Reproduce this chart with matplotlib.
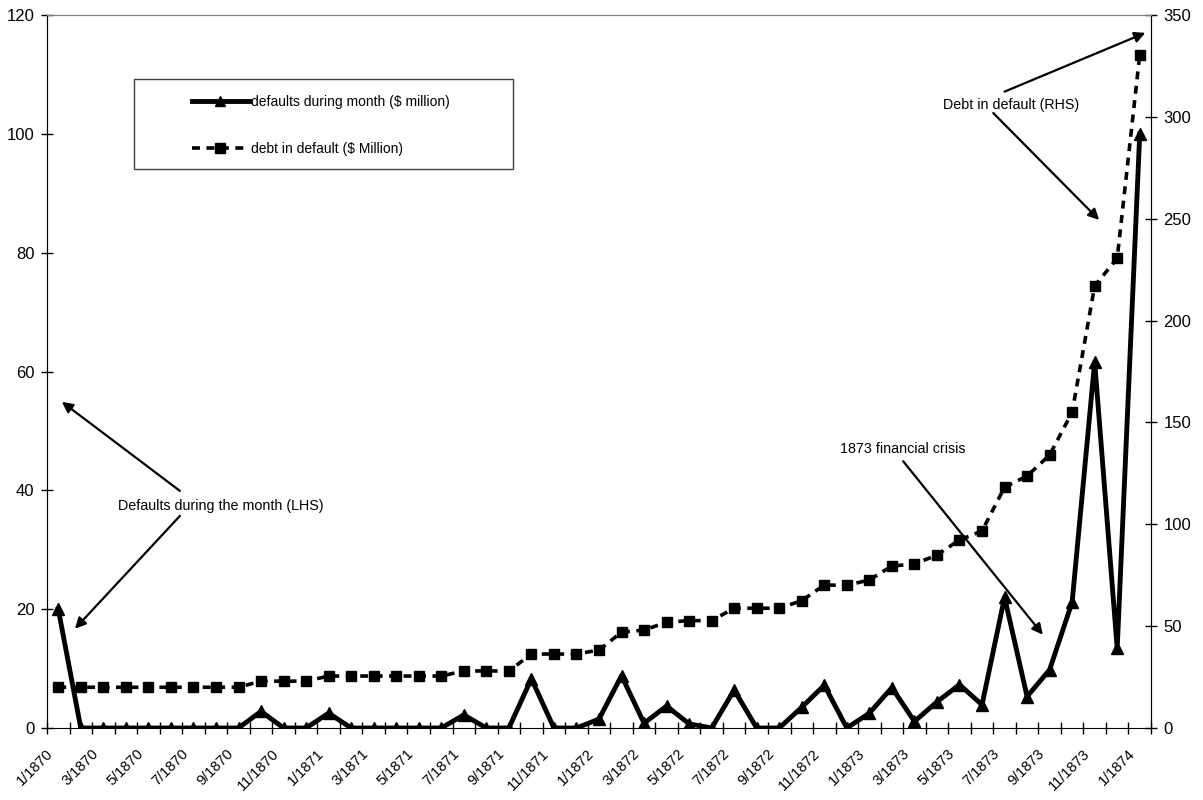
import matplotlib
matplotlib.use('Agg')
import matplotlib.pyplot as plt
import matplotlib.transforms as mtransforms
from matplotlib.patches import Rectangle
from matplotlib.lines import Line2D
import numpy as np

plt.rcParams['font.family'] = ['Liberation Sans', 'DejaVu Sans']

# monthly series, 1/1870 .. 1/1874
months = ['%d/%d' % (m, y) for y in range(1870, 1875) for m in range(1, 13)][:49]

defaults = [20.0, 0, 0, 0, 0, 0, 0, 0, 0, 2.8, 0, 0,
            2.5, 0, 0, 0, 0, 0, 2.2, 0, 0, 8.3, 0, 0,
            1.5, 8.8, 0.8, 3.7, 0.7, 0, 6.4, 0, 0, 3.5, 7.2, 0,
            2.5, 6.8, 1.1, 4.4, 7.3, 3.9, 22.0, 5.3, 9.8, 21.2, 61.6, 13.4,
            100.0]

debt = [20, 20, 20, 20, 20, 20, 20, 20, 20, 23, 23, 23,
        25.5, 25.5, 25.5, 25.5, 25.5, 25.5, 28, 28, 28, 36.3, 36.3, 36.3,
        38.3, 47.0, 48.1, 51.9, 52.7, 52.7, 58.8, 58.8, 58.8, 62.5, 70.2, 70.0,
        72.7, 79.5, 80.5, 84.9, 92.3, 96.7, 118.2, 123.7, 134.0, 155.0, 217.0, 230.6,
        330.4]

x = np.arange(len(months))

fig = plt.figure(figsize=(12.03, 8), dpi=100)
ax = fig.add_axes([47/1203, 1 - 728/800, 1104/1203, 713/800])
ax2 = ax.twinx()

ax.plot(x, defaults, color='black', lw=3.5, marker='^', ms=9, zorder=3)
ax2.plot(x, debt, color='black', lw=2.6, ls=(0, (2.2, 1.8)), marker='s', ms=7)

ax.set_xlim(-0.5, len(months) - 0.5)
ax.set_ylim(0, 120)
ax2.set_ylim(0, 350)
ax.set_yticks(np.arange(0, 121, 20))
ax2.set_yticks(np.arange(0, 351, 50))

ax.set_xticks(x[::2])
ax.set_xticklabels(months[::2], rotation=45, ha='right', va='top',
                   rotation_mode='anchor')
ax.set_xticks(np.arange(-0.5, len(months)), minor=True)
ax.tick_params(axis='x', which='major', length=0, pad=9, labelsize=10.5)
ax.tick_params(axis='x', which='minor', direction='inout', length=8, width=1)
ax.tick_params(axis='y', direction='inout', length=8, width=1, labelsize=12, pad=5)
ax2.tick_params(axis='y', direction='inout', length=8, width=1, labelsize=12, pad=5)

# push the slanted month labels down and to the left
shift = mtransforms.ScaledTranslation(-0.12, -0.06, fig.dpi_scale_trans)
for lbl in ax.get_xticklabels():
    lbl.set_transform(lbl.get_transform() + shift)

for a in (ax, ax2):
    a.spines['top'].set_color('#808080')
    a.spines['left'].set_color('black')
    a.spines['right'].set_color('black')
    a.spines['bottom'].set_color('black')
ax2.spines['bottom'].set_visible(False)

# arrows and notes (left axis coordinates)
arrow = dict(arrowstyle='-|>', color='black', lw=1.6, mutation_scale=16,
             shrinkA=0, shrinkB=0)
ax.text(7.2, 37.4, 'Defaults during the month (LHS)', fontsize=10.3,
        ha='center', va='center')
ax.annotate('', xy=(0.16, 54.9), xytext=(5.4, 39.9), arrowprops=arrow)
ax.annotate('', xy=(0.74, 16.7), xytext=(5.4, 35.7), arrowprops=arrow)

ax.text(42.3, 104.9, 'Debt in default (RHS)', fontsize=10.3,
        ha='center', va='center')
ax.annotate('', xy=(48.25, 117.0), xytext=(42.0, 107.1), arrowprops=arrow)
ax.annotate('', xy=(46.2, 85.5), xytext=(41.5, 103.5), arrowprops=arrow)

ax.text(37.5, 47.0, '1873 financial crisis', fontsize=10.3,
        ha='center', va='center')
ax.annotate('', xy=(43.7, 15.7), xytext=(37.5, 44.9), arrowprops=arrow)

# legend box
fig.patches.append(Rectangle((134/1203, 1 - 169/800), 379/1203, 90/800,
                             transform=fig.transFigure, fill=False,
                             edgecolor='#404040', lw=1))
handles = [Line2D([], [], color='black', lw=3.5, marker='^', ms=7),
           Line2D([], [], color='black', lw=2.6, ls=(0, (2.2, 1.8)),
                  marker='s', ms=7)]
fig.legend(handles, ['defaults during month ($ million)',
                     'debt in default ($ Million)'],
           loc='upper left', bbox_to_anchor=(192/1203, 1 - 95/800),
           frameon=False, fontsize=10, handlelength=4.1, handletextpad=0.15,
           borderpad=0, borderaxespad=0, labelspacing=2.4)

fig.savefig('out.png', dpi=100)
